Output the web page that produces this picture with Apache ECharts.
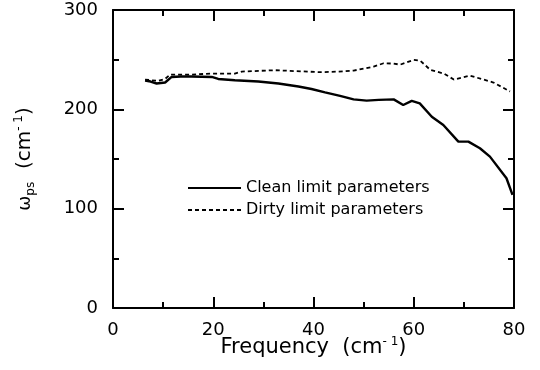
<!DOCTYPE html>
<html>
<head>
<meta charset="utf-8">
<script src="https://cdn.jsdelivr.net/npm/echarts@6/dist/echarts.min.js"></script>
<style>html,body{margin:0;padding:0;background:#fff}#c{width:540px;height:370px}</style>
</head>
<body>
<div id="c"></div>
<script>
var cleanFreq = [6.4,7.5,8.7,10.4,11.7,13.5,15.7,19.7,21,24.3,29,33,37,39.6,42.3,45.3,48,50.6,53,56,57.9,59.6,61.2,63.6,65.9,68.9,70.9,73.2,75.2,78.5,79.7];
var cleanVals = [229,228,226,227,232.6,233,233,232.6,230.6,229.3,228,226,223,220.5,217,213.5,210,208.8,209.5,210,204.4,208.5,206,192.6,184.3,167.5,167.5,160.8,152.4,130.6,113.8];
var dirtyFreq = [6.4,9,10.4,11.4,15.7,19.7,24.3,25.7,32.3,41.3,45,48,52,54,56,57.3,60,61.3,63.3,66,68,71.2,75.9,79.2];
var dirtyVals = [230,228.6,230.6,235,235,236,236,238,239.4,237.4,238,239,243,246.4,246,245,249.7,249,239.7,236,230,234,227,218];
var xTicks = [0,20,40,60,80];
var yTicks = [0,100,200,300];
var seriesNames = ['Clean limit parameters','Dirty limit parameters'];

function pairs(xs, ys){ return xs.map(function(x,i){return [x, ys[i]];}); }

// legend icons: solid bar and dashed bar (53 x 2)
var solidIcon = 'path://M0,0h53v2h-53z';
var dashIcon = 'path://';
for (var d = 0; d < 53; d += 7) { var w = Math.min(4, 53 - d); dashIcon += 'M' + d + ',0h' + w + 'v2h-' + w + 'z'; }

var font = 'DejaVu Sans';
var chart = echarts.init(document.getElementById('c'));
function axisBase(){
  return {
    axisLine:{show:true,onZero:false,lineStyle:{color:'#000',width:2}},
    axisTick:{show:true,inside:true,length:11,lineStyle:{color:'#000',width:2}},
    minorTick:{show:true,splitNumber:2,length:6,lineStyle:{color:'#000',width:2}},
    splitLine:{show:false},minorSplitLine:{show:false}
  };
}
chart.setOption({
  animation:false,
  backgroundColor:'#fff',
  grid:{left:113,right:26,top:10,bottom:62,outerBoundsMode:'none',containLabel:false},
  legend:{
    orient:'vertical',left:183,top:175,itemWidth:53,itemHeight:2,itemGap:6,
    textStyle:{fontFamily:font,fontSize:16,color:'#000'},
    data:[{name:seriesNames[0],icon:solidIcon},{name:seriesNames[1],icon:dashIcon}]
  },
  xAxis:[
    Object.assign(axisBase(), {type:'value',position:'bottom',min:xTicks[0],max:xTicks[xTicks.length-1],interval:20,
      axisLabel:{color:'#000',fontFamily:font,fontSize:18,margin:13},
      name:'{n|Frequency  (cm}{sup|- 1}{n|)}',nameLocation:'middle',nameGap:28,nameMoveOverlap:false,
      nameTextStyle:{color:'#000',fontFamily:font,fontSize:21,
        rich:{n:{fontFamily:font,fontSize:21,color:'#000',lineHeight:24},
              sup:{fontFamily:font,fontSize:12,color:'#000',lineHeight:24,verticalAlign:'top',padding:[0,0,6,0]}}}}),
    Object.assign(axisBase(), {type:'value',position:'top',min:0,max:80,interval:20,axisLabel:{show:false}})
  ],
  yAxis:[
    Object.assign(axisBase(), {type:'value',position:'left',min:yTicks[0],max:yTicks[yTicks.length-1],interval:100,
      axisLabel:{color:'#000',fontFamily:font,fontSize:18,margin:15},
      name:'{w|ω}{sub|ps}  {n|(cm}{sup|- 1}{n|)}',nameLocation:'middle',nameGap:76,nameRotate:90,nameMoveOverlap:false,
      nameTextStyle:{color:'#000',fontFamily:font,fontSize:20,
        rich:{w:{fontFamily:font,fontSize:18,color:'#000'},
              n:{fontFamily:font,fontSize:20,color:'#000'},
              sub:{fontFamily:font,fontSize:12,color:'#000',verticalAlign:'bottom',padding:[10,0,0,0]},
              sup:{fontFamily:font,fontSize:12,color:'#000',verticalAlign:'top',padding:[0,0,12,0]}}}}),
    Object.assign(axisBase(), {type:'value',position:'right',min:0,max:300,interval:100,axisLabel:{show:false}})
  ],
  series:[
    {name:seriesNames[0],type:'line',data:pairs(cleanFreq,cleanVals),symbol:'none',smooth:false,
     lineStyle:{color:'#000',width:2.4},itemStyle:{color:'#000'}},
    {name:seriesNames[1],type:'line',data:pairs(dirtyFreq,dirtyVals),symbol:'none',smooth:false,
     lineStyle:{color:'#000',width:1.8,type:[4,3]},itemStyle:{color:'#000'}}
  ]
});
</script>
</body>
</html>
